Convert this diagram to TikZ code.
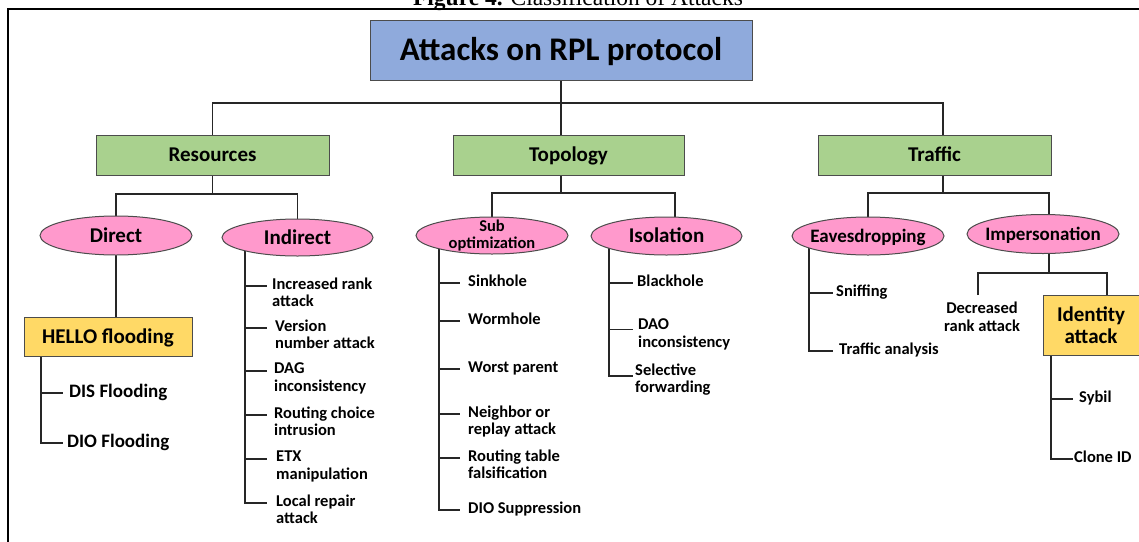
\documentclass[tikz,border=0pt]{standalone}
\usepackage{fontspec}
\setmainfont{Carlito}
\newfontfamily\capfont{Liberation Serif}
\usetikzlibrary{shapes.geometric}
\definecolor{tblue}{HTML}{8FAADC}
\definecolor{tgreen}{HTML}{A9D18E}
\definecolor{tpink}{HTML}{FF99CC}
\definecolor{tyellow}{HTML}{FFD966}
\pgfdeclarelayer{bg}
\pgfsetlayers{bg,main}
\begin{document}
\begin{tikzpicture}[x=1pt,y=-1pt,
  conn/.style={line width=1.4pt,draw=black!85},
  box/.style={draw=black!70,line width=1pt,inner sep=0pt,align=center},
  ell/.style={ellipse,draw=black!70,line width=1pt,fill=tpink,inner sep=0pt},
  fA/.style={font=\fontsize{21}{22}\selectfont\bfseries},
  fB/.style={font=\fontsize{19}{20}\selectfont\bfseries},
  fC/.style={font=\fontsize{16.5}{17.5}\selectfont\bfseries},
  oneA/.style={fA,text height=13.5pt,text depth=0pt},
  oneB/.style={fB,text height=12.2pt,text depth=0pt},
  leaf/.style={fC,align=left,inner sep=0pt,anchor=west,
    execute at begin node=\strut,execute at end node=\strut},
]
\useasboundingbox (0,0) rectangle (1139,541);
\clip (0,0) rectangle (1139,541);
% caption and frame
\node[font=\capfont\fontsize{23.5}{24}\selectfont,anchor=base,inner sep=0pt] (cap) at (578,5) {\textbf{Figure 4.} Classification of Attacks};
\draw[line width=1.6pt] (8,550) -- (8,9) -- (1150,9);
% level 0 and 1
\node[box,fill=tblue,minimum width=382pt,minimum height=60pt,font=\fontsize{33}{36}\selectfont\bfseries,text height=21.2pt,text depth=0pt] (root) at (561,50) {Attacks on RPL protocol};
\node[box,oneA,fill=tgreen,minimum width=233pt,minimum height=40pt] (res) at (212.5,155) {Resources};
\node[box,oneA,fill=tgreen,minimum width=231pt,minimum height=40pt] (top) at (568.5,155) {Topology};
\node[box,oneA,fill=tgreen,minimum width=233pt,minimum height=40pt] (tra) at (934.5,155) {Traffic};
% level 2 ellipses
\node[ell,minimum width=152pt,minimum height=39pt,label={[name=dirL,oneA]center:Direct}] (dir) at (116,235.5) {};
\node[ell,minimum width=151pt,minimum height=37pt,label={[name=indL,oneA]center:Indirect}] (ind) at (297.5,237.5) {};
\node[ell,minimum width=152pt,minimum height=37pt,label={[name=subL,fC,align=center]center:Sub\\optimization}] (sub) at (492,235.5) {};
\node[ell,minimum width=151pt,minimum height=38pt,label={[name=isoL,oneA]center:Isolation}] (iso) at (666.5,236) {};
\node[ell,minimum width=152pt,minimum height=38pt,label={[name=eavL,oneB]center:Eavesdropping}] (eav) at (868,236) {};
\node[ell,minimum width=152pt,minimum height=39pt,label={[name=impL,oneB]center:Impersonation}] (imp) at (1043,234) {};
% level 3 boxes
\node[box,oneA,fill=tyellow,minimum width=168pt,minimum height=39pt] (hel) at (108,336.5) {HELLO flooding};
\node[box,fill=tyellow,minimum width=96pt,minimum height=60pt,fA] (idt) at (1091,325.5) {Identity\\attack};
\node[fC,align=center,inner sep=1pt] (dec) at (982,317) {Decreased\\rank attack};
% leaves
\node[leaf,fB] (dis) at (69,393) {DIS Flooding};
\node[leaf,fB] (dio) at (67,443) {DIO Flooding};
\node[leaf] (i1) at (272,294.75) {Increased rank\\attack};
\node[leaf] (i2) at (275,336.75) {Version\\number attack};
\node[leaf] (i3) at (274,379.75) {DAG\\inconsistency};
\node[leaf] (i4) at (274,423.75) {Routing choice\\intrusion};
\node[leaf] (i5) at (276,467.75) {ETX\\manipulation};
\node[leaf] (i6) at (276,511.75) {Local repair\\attack};
\node[leaf] (s1) at (468,283) {Sinkhole};
\node[leaf] (s2) at (468,321) {Wormhole};
\node[leaf] (s3) at (468,369) {Worst parent};
\node[leaf] (s4) at (468,422.75) {Neighbor or\\replay attack};
\node[leaf] (s5) at (468,466.75) {Routing table\\falsification};
\node[leaf] (s6) at (468,510) {DIO Suppression};
\node[leaf] (o1) at (637,283) {Blackhole};
\node[leaf] (o2) at (638,335.75) {DAO\\inconsistency};
\node[leaf] (o3) at (635,380.75) {Selective\\forwarding};
\node[leaf] (e1) at (836,293) {Sniffing};
\node[leaf] (e2) at (839,351) {Traffic analysis};
\node[leaf] (y1) at (1079,399) {Sybil};
\node[leaf] (y2) at (1074,459) {Clone ID};
% connectors
\begin{pgfonlayer}{bg}
\coordinate (b0) at (561,103);
\coordinate (tJ) at (943,103);
\draw[conn] (root.south) -- (b0);
\draw[conn] (res.north) |- (tJ) -- (tJ |- tra.north);
\draw[conn] (b0) -- (b0 |- top.north);
% resources
\coordinate (rJ) at (212.5,194);
\draw[conn] (res.south) -- (rJ);
\draw[conn] (dir.center) -- (dir.center |- rJ) -- (ind.center |- rJ) -- (ind.center);
% topology
\coordinate (tJ2) at (561,193);
\coordinate (isoX) at (675,193);
\draw[conn] (tJ2 |- top.south) -- (tJ2);
\draw[conn] (sub.center) -- (sub.center |- tJ2) -- (isoX) -- (isoX |- iso.center);
% traffic
\coordinate (trJ) at (943,193);
\coordinate (impX) at (1049,193);
\draw[conn] (trJ |- tra.south) -- (trJ);
\draw[conn] (eav.center) -- (eav.center |- trJ) -- (impX) -- (impX |- imp.center);
% direct -> hello
\draw[conn] (dir.center) -- (dir.center |- hel.north);
\coordinate (hS) at (41,350);
\coordinate (hT) at (63,0);
\draw[conn] (hS) |- (dio.west -| hT);
\draw[conn] (dis.west -| hS) -- (dis.west -| hT);
% indirect
\coordinate (iS) at (245,245);
\coordinate (iT) at (267,0);
\draw[conn] (iS) |- ([yshift=8.75pt]i6.west -| iT);
\foreach \n in {i1,i2,i3,i4,i5}{
  \draw[conn] ([yshift=8.75pt]\n.west -| iS) -- ([yshift=8.75pt]\n.west -| iT);}
% sub optimization
\coordinate (sS) at (439,245);
\coordinate (sT) at (460,0);
\draw[conn] (sS) |- (s6.west -| sT);
\foreach \n in {s1,s2,s3}{
  \draw[conn] (\n.west -| sS) -- (\n.west -| sT);}
\foreach \n in {s4,s5}{
  \draw[conn] ([yshift=8.75pt]\n.west -| sS) -- ([yshift=8.75pt]\n.west -| sT);}
% isolation
\coordinate (oS) at (609,245);
\coordinate (oT) at (633,0);
\draw[conn] (oS) |- ([yshift=4.75pt]o3.west -| oT);
\draw[conn] (o1.west -| oS) -- (o1.west -| oT);
\draw[conn] ([yshift=6.5pt]o2.west -| oS) -- ([yshift=6.5pt]o2.west -| oT);
% eavesdropping
\coordinate (eS) at (809,245);
\coordinate (eT) at (833,0);
\draw[conn] (eS) |- (e2.west -| eT);
\draw[conn] (e1.west -| eS) -- (e1.west -| eT);
% impersonation
\coordinate (pJ) at (1049,273);
\coordinate (dL) at (978,273);
\coordinate (dR) at (1107,273);
\coordinate (dEnd) at (978,295);
\draw[conn] (pJ |- imp.center) -- (pJ);
\draw[conn] (dEnd) -- (dL) -- (dR) -- (dR |- idt.north);
% identity
\coordinate (yS) at (1051,340);
\coordinate (yT) at (1073,0);
\draw[conn] (yS) |- (y2.west -| yT);
\draw[conn] (y1.west -| yS) -- (y1.west -| yT);
\end{pgfonlayer}
\end{tikzpicture}
\end{document}
